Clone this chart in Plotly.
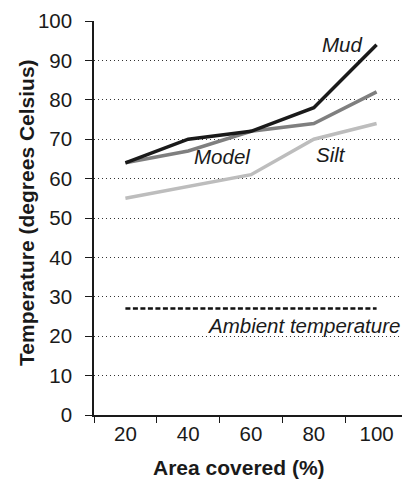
import plotly.graph_objects as go

area = ["20", "40", "60", "80", "100"]
mud = [64, 70, 72, 78, 94]
model = [64, 67, 72, 74, 82]
silt = [55, 58, 61, 70, 74]
ambient = [27, 27, 27, 27, 27]
yticks = [0, 10, 20, 30, 40, 50, 60, 70, 80, 90, 100]

FONT = "Liberation Sans, Arial, sans-serif"

fig = go.Figure()
fig.add_trace(go.Scatter(x=area, y=ambient, mode="lines",
                         line=dict(color="#111111", width=2.5, dash="5px,2.5px")))
fig.add_trace(go.Scatter(x=area, y=silt, mode="lines",
                         line=dict(color="#bdbdbd", width=3.5)))
fig.add_trace(go.Scatter(x=area, y=model, mode="lines",
                         line=dict(color="#7f7f7f", width=3.5)))
fig.add_trace(go.Scatter(x=area, y=mud, mode="lines",
                         line=dict(color="#1a1a1a", width=3.5)))

labels = [
    ("Mud", 3.45, 94),
    ("Model", 1.54, 65.5),
    ("Silt", 3.27, 66),
    ("Ambient temperature", 2.84, 22.8),
]
for txt, x, y in labels:
    fig.add_annotation(x=x, y=y, text=f"<i>{txt}</i>", showarrow=False,
                       font=dict(family=FONT, size=20.5, color="#1a1a1a"))

# axis titles as paper annotations (positioned like the original)
fig.add_annotation(xref="paper", yref="paper", x=0.462, y=-0.132,
                   text="<b>Area covered (%)</b>", showarrow=False,
                   xanchor="center", yanchor="middle",
                   font=dict(family=FONT, size=21, color="#1a1a1a"))
fig.add_annotation(xref="paper", yref="paper", x=-0.217, y=0.515,
                   text="<b>Temperature (degrees Celsius)</b>", showarrow=False,
                   textangle=-90, xanchor="center", yanchor="middle",
                   font=dict(family=FONT, size=21, color="#1a1a1a"))

fig.update_layout(
    width=402, height=472,
    margin=dict(l=86, r=2, t=13, b=65),
    paper_bgcolor="white", plot_bgcolor="white",
    showlegend=False,
    font=dict(family=FONT, color="#1a1a1a"),
)
fig.update_xaxes(
    type="category", range=[-0.5, 4.5],
    tickson="boundaries", ticks="outside", ticklen=6, tickcolor="#1a1a1a",
    tickfont=dict(size=20.5), showgrid=False,
    showline=True, linecolor="#1a1a1a", linewidth=1.5,
)
fig.update_yaxes(
    range=[0, 100], tickvals=yticks, ticks="outside", ticklen=7,
    tickcolor="#1a1a1a", tickfont=dict(size=20.5), ticklabelstandoff=9,
    showgrid=True, gridcolor="#333333", griddash="1px,3px", gridwidth=1.2,
    zeroline=False,
    showline=True, linecolor="#1a1a1a", linewidth=1.5,
)

fig.write_html("out.html")
